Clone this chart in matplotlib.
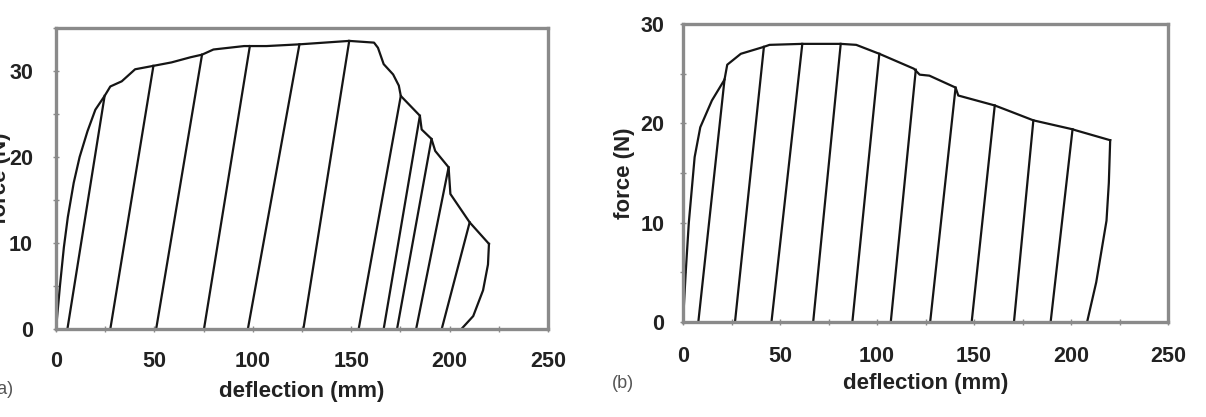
import numpy as np
import matplotlib.pyplot as plt
from matplotlib.ticker import MultipleLocator

# panel (a): envelope, unloading/reloading lines, last unloading
env_a_x = [0, 2, 4, 6, 9, 12, 16, 20, 24.7, 27.6, 33.4, 40.2, 49.5, 58.7, 68.4, 74.2,
           80, 95.6, 98.5, 107, 123.7, 149, 161.6, 163.6, 166.5, 171.3, 174.2, 175.2,
           184.9, 185.8, 190.8, 192.7, 199.5, 200.4, 210.2, 220]
env_a_y = [0, 5, 9.5, 13, 17, 20, 23, 25.5, 27.1, 28.2, 28.8, 30.2, 30.6, 31, 31.6, 31.9,
           32.5, 32.9, 32.9, 32.9, 33.1, 33.5, 33.3, 32.7, 30.8, 29.6, 28.3, 27.1,
           24.8, 23.2, 22.1, 20.7, 18.8, 15.7, 12.4, 9.9]
tops_a_x = [24.7, 49.5, 74.2, 98.5, 123.7, 149, 175.2, 184.9, 190.8, 199.5, 210.2]
tops_a_y = [27.1, 30.6, 31.9, 32.9, 33.1, 33.5, 27.1, 24.8, 22.1, 18.8, 12.4]
bots_a_x = [5.8, 27.6, 50.9, 75.2, 97.5, 125.7, 153.8, 166.5, 173.3, 183, 196]
last_a_x = [220, 219.5, 217, 212, 206]
last_a_y = [9.9, 7.5, 4.5, 1.5, 0]

# panel (b)
env_b_x = [0, 1.4, 3, 6, 8.9, 14.9, 21.4, 22.8, 29.8, 41.7, 44.6, 61.5, 81.3, 89.3,
           101.2, 119, 122, 127, 140.5, 141.9, 160.7, 168.7, 180.6, 200.8, 202.4, 220.2]
env_b_y = [0, 5, 10, 16.6, 19.6, 22.3, 24.4, 25.9, 27.0, 27.7, 27.9, 28.0, 28.0, 27.9,
           27.0, 25.5, 24.9, 24.8, 23.6, 22.8, 21.8, 21.2, 20.3, 19.4, 19.3, 18.3]
tops_b_x = [21.4, 41.7, 61.5, 81.3, 101.2, 120, 140.5, 160.7, 180.6, 200.8]
tops_b_y = [24.4, 27.7, 28.0, 28.0, 27.0, 25.4, 23.6, 21.8, 20.3, 19.4]
bots_b_x = [7.9, 26.8, 45.6, 67.1, 87.3, 107.1, 127.4, 148.8, 170.6, 189.5]
last_b_x = [220.2, 219.5, 218.3, 213, 208.3]
last_b_y = [18.3, 14, 10.2, 4, 0]

plt.rcParams['font.family'] = ['Liberation Sans', 'DejaVu Sans']
kLine = '#151515'
kFrame = '#8a8a8a'

fig = plt.figure(figsize=(12.06, 4.17), dpi=100)
ax_a = fig.add_axes([56 / 1206, 1 - 329 / 417, 492 / 1206, 301 / 417])
ax_b = fig.add_axes([683 / 1206, 1 - 322 / 417, 485 / 1206, 298 / 417])


def DrawPanel(ax, ex, ey, tx, ty, bx, lx, ly, ytop, ypad, xpad, xlpad):
  ax.plot(ex, ey, color=kLine, lw=1.6)
  for t_x, t_y, b_x in zip(tx, ty, bx):
    ax.plot([b_x, t_x], [0, t_y], color=kLine, lw=1.6)
  ax.plot(lx, ly, color=kLine, lw=1.6)
  ax.set_xlim(0, 250)
  ax.set_ylim(0, ytop)
  ax.xaxis.set_major_locator(MultipleLocator(50))
  ax.xaxis.set_minor_locator(MultipleLocator(25))
  ax.yaxis.set_major_locator(MultipleLocator(10))
  ax.yaxis.set_minor_locator(MultipleLocator(5))
  ax.tick_params(which='both', direction='inout', length=5, width=1, color=kFrame,
                 labelsize=15.5, labelcolor='#222222')
  ax.tick_params(axis='x', which='major', pad=xpad)
  ax.tick_params(axis='y', which='major', pad=ypad)
  for lbl in ax.get_xticklabels() + ax.get_yticklabels():
    lbl.set_fontweight('bold')
  for s in ax.spines.values():
    s.set_color(kFrame)
    s.set_linewidth(2.4)
  ax.set_xlabel('deflection (mm)', fontsize=16, fontweight='bold', color='#222222',
                labelpad=xlpad)


DrawPanel(ax_a, env_a_x, env_a_y, tops_a_x, tops_a_y, bots_a_x, last_a_x, last_a_y,
          35, 14, 13, 7)
DrawPanel(ax_b, env_b_x, env_b_y, tops_b_x, tops_b_y, bots_b_x, last_b_x, last_b_y,
          30, 11, 15, 4)

ax_b.set_ylabel('force (N)', fontsize=16, fontweight='bold', color='#222222', labelpad=4)
fig.text(11 / 1206, 1 - 178 / 417, 'force (N)', rotation=90, ha='right', va='center',
         fontsize=16, fontweight='bold', color='#222222')

fig.text(-8 / 1206, 1 - 390 / 417, '(a)', ha='left', va='center', fontsize=13, color='#555555')
fig.text(623 / 1206, 1 - 383 / 417, '(b)', ha='center', va='center', fontsize=13, color='#555555')

fig.savefig('out.png', dpi=100)
